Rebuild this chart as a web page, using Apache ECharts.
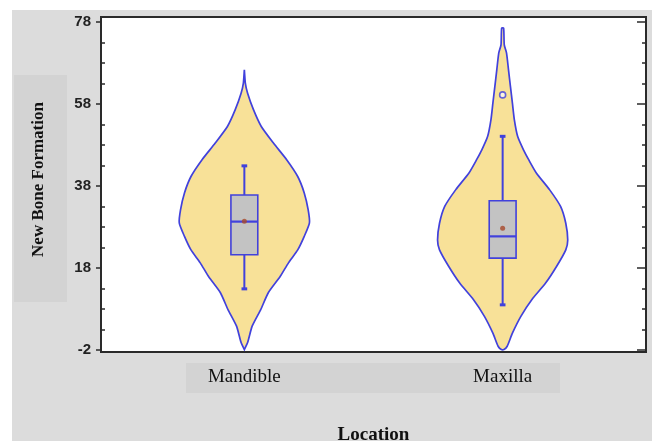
<!DOCTYPE html>
<html>
<head>
<meta charset="utf-8">
<script src="https://cdn.jsdelivr.net/npm/echarts@6/dist/echarts.min.js"></script>
<style>
  html, body { margin: 0; padding: 0; background: #fff; }
  #wrap { position: relative; width: 655px; height: 441px; overflow: hidden; }
  .panel { position: absolute; left: 12px; top: 10px; width: 640px; height: 431px; background: #dcdcdc; }
  .ybox { position: absolute; left: 14px; top: 75px; width: 53px; height: 227px; background: #d3d3d3; }
  .xbox { position: absolute; left: 186px; top: 363px; width: 374px; height: 30px; background: #d3d3d3; }
  #chart { position: absolute; left: 0; top: 0; width: 655px; height: 441px; }
</style>
</head>
<body>
<div id="wrap">
  <div class="panel"></div>
  <div class="ybox"></div>
  <div class="xbox"></div>
  <div id="chart"></div>
</div>
<script>
// Groups along the horizontal axis
const categories = ['Mandible', 'Maxilla'];

// Vertical axis ticks
const yMajorTicks = [-2, 18, 38, 58, 78];
const yMinorTicks = [3, 8, 13, 23, 28, 33, 43, 48, 53, 63, 68, 73];

// Density profiles (relative density at each level of new bone formation)
const mandibleLevels  = [-1.9, -0.2, 3.8, 7.8, 12.0, 15.9, 19.3, 22.4, 25.7, 29.0, 32.2, 36.3, 40.3, 44.4, 48.4, 52.5, 56.6, 60.6, 63.1, 66.3];
const mandibleDensity = [0, 0.05, 0.12, 0.25, 0.37, 0.55, 0.68, 0.82, 0.92, 1.0, 0.98, 0.92, 0.82, 0.65, 0.45, 0.26, 0.14, 0.05, 0.015, 0];

const maxillaLevels  = [-1.9, -1.1, 2.1, 6.2, 10.3, 14.3, 18.4, 22.4, 24.8, 28.9, 33.0, 37.1, 41.1, 44.4, 46.8, 50.1, 54.1, 58.2, 62.2, 66.3, 70.4, 72.4, 76.5];
const maxillaDensity = [0.02, 0.07, 0.15, 0.28, 0.45, 0.66, 0.83, 0.97, 1.0, 0.97, 0.89, 0.72, 0.52, 0.40, 0.32, 0.23, 0.18, 0.15, 0.12, 0.09, 0.06, 0.025, 0.015];

// Box summaries: [lower whisker, Q1, median, Q3, upper whisker]
const mandibleBox = [12.9, 21.2, 29.3, 35.8, 42.9];
const maxillaBox  = [9.0, 20.4, 25.7, 34.4, 50.1];

// Means and outliers
const meanValues = [29.4, 27.7];
const maxillaOutliers = [60.2];

// ---- build series data from the arrays above ----
const profiles = [
  { levels: mandibleLevels, density: mandibleDensity },
  { levels: maxillaLevels, density: maxillaDensity }
];
const boxes = [mandibleBox, maxillaBox];

const violinData = categories.map((c, i) => [i + 1]);
const boxData = boxes.map((b, i) => [i + 1].concat(b));
const meanData = meanValues.map((v, i) => [i + 1, v]);
const outlierData = maxillaOutliers.map(v => [2, v]);

const VIOLIN_HALF = 0.252;   // x-axis units at peak density
const BOX_HALF = 0.052;
const CAP_HALF = 0.011;

const blue = '#4141dc';

const chart = echarts.init(document.getElementById('chart'), null, { renderer: 'canvas' });

function yAxisBase(extra) {
  return Object.assign({
    type: 'value',
    min: -2.5,
    max: 79.2,
    splitLine: { show: false },
    axisLine: { show: false },
    axisLabel: { show: false },
    axisTick: { show: false }
  }, extra);
}

const option = {
  animation: false,
  backgroundColor: 'transparent',
  grid: {
    left: 101, right: 9, top: 17, bottom: 89,
    outerBoundsMode: 'none',
    containLabel: false,
    show: true,
    backgroundColor: '#ffffff',
    borderColor: '#2a2a2a',
    borderWidth: 2
  },
  xAxis: {
    type: 'value',
    min: 0.445,
    max: 2.555,
    splitLine: { show: false },
    axisLine: { show: true, onZero: false, lineStyle: { color: '#2a2a2a', width: 2 } },
    axisTick: { show: false },
    axisLabel: {
      customValues: [1, 2],
      formatter: v => categories[Math.round(v) - 1],
      fontFamily: 'Liberation Serif',
      fontSize: 19,
      color: '#111',
      margin: 16
    },
    name: 'Location',
    nameLocation: 'middle',
    nameGap: 74,
    nameTextStyle: {
      fontFamily: 'Liberation Serif',
      fontWeight: 'bold',
      fontSize: 19,
      color: '#111'
    }
  },
  yAxis: [
    yAxisBase({
      position: 'left',
      axisLine: { show: true, onZero: false, lineStyle: { color: '#2a2a2a', width: 2 } },
      axisTick: {
        show: true, customValues: yMajorTicks, length: 5, inside: false,
        lineStyle: { color: '#2a2a2a', width: 1.5 }
      },
      axisLabel: {
        show: true, customValues: yMajorTicks, margin: 10,
        fontFamily: 'Liberation Sans', fontWeight: 'bold', fontSize: 15, color: '#222'
      },
      name: 'New Bone Formation',
      nameLocation: 'middle',
      nameRotate: 90,
      nameGap: 54,
      nameTextStyle: {
        fontFamily: 'Liberation Serif',
        fontWeight: 'bold',
        fontSize: 17,
        color: '#111',
        padding: [0, 0, 0, 10]
      }
    }),
    yAxisBase({
      position: 'left',
      axisTick: {
        show: true, customValues: yMinorTicks, length: 4, inside: true,
        lineStyle: { color: '#2a2a2a', width: 1.5 }
      }
    }),
    yAxisBase({
      position: 'right',
      axisLine: { show: true, onZero: false, lineStyle: { color: '#2a2a2a', width: 2 } },
      axisTick: {
        show: true, customValues: yMajorTicks, length: 9, inside: true,
        lineStyle: { color: '#2a2a2a', width: 1.5 }
      }
    }),
    yAxisBase({
      position: 'right',
      axisTick: {
        show: true, customValues: yMinorTicks, length: 4, inside: true,
        lineStyle: { color: '#2a2a2a', width: 1.5 }
      }
    })
  ],
  series: [
    {
      // violin outlines
      type: 'custom',
      yAxisIndex: 0,
      data: violinData,
      silent: true,
      renderItem: function (params, api) {
        const pos = api.value(0);
        const p = profiles[params.dataIndex];
        const pts = [];
        for (let k = 0; k < p.levels.length; k++) {
          pts.push(api.coord([pos + p.density[k] * VIOLIN_HALF, p.levels[k]]));
        }
        for (let k = p.levels.length - 1; k >= 0; k--) {
          pts.push(api.coord([pos - p.density[k] * VIOLIN_HALF, p.levels[k]]));
        }
        return {
          type: 'polygon',
          shape: { points: pts, smooth: 0.2 },
          style: { fill: '#f8e198', stroke: blue, lineWidth: 1.7 }
        };
      },
      z: 2
    },
    {
      // box-and-whisker
      type: 'custom',
      yAxisIndex: 0,
      data: boxData,
      silent: true,
      renderItem: function (params, api) {
        const pos = api.value(0);
        const lo = api.value(1), q1 = api.value(2), med = api.value(3), q3 = api.value(4), hi = api.value(5);
        const c = (x, y) => api.coord([x, y]);
        const lineStyle = { stroke: blue, lineWidth: 2 };
        const tl = c(pos - BOX_HALF, q3), br = c(pos + BOX_HALF, q1);
        const children = [
          { type: 'line', shape: { x1: c(pos, lo)[0], y1: c(pos, lo)[1], x2: c(pos, q1)[0], y2: c(pos, q1)[1] }, style: lineStyle },
          { type: 'line', shape: { x1: c(pos, q3)[0], y1: c(pos, q3)[1], x2: c(pos, hi)[0], y2: c(pos, hi)[1] }, style: lineStyle },
          { type: 'line', shape: { x1: c(pos - CAP_HALF, lo)[0], y1: c(pos, lo)[1], x2: c(pos + CAP_HALF, lo)[0], y2: c(pos, lo)[1] }, style: { stroke: blue, lineWidth: 3 } },
          { type: 'line', shape: { x1: c(pos - CAP_HALF, hi)[0], y1: c(pos, hi)[1], x2: c(pos + CAP_HALF, hi)[0], y2: c(pos, hi)[1] }, style: { stroke: blue, lineWidth: 3 } },
          { type: 'rect', shape: { x: tl[0], y: tl[1], width: br[0] - tl[0], height: br[1] - tl[1] }, style: { fill: '#c3c3c3', stroke: blue, lineWidth: 1.6 } },
          { type: 'line', shape: { x1: tl[0], y1: c(pos, med)[1], x2: br[0], y2: c(pos, med)[1] }, style: { stroke: blue, lineWidth: 2.2 } }
        ];
        return { type: 'group', children: children };
      },
      z: 3
    },
    {
      // means
      type: 'scatter',
      yAxisIndex: 0,
      data: meanData,
      symbol: 'circle',
      symbolSize: 5,
      itemStyle: { color: '#a8492a' },
      silent: true,
      z: 4
    },
    {
      // outliers
      type: 'scatter',
      yAxisIndex: 0,
      data: outlierData,
      symbol: 'circle',
      symbolSize: 6,
      itemStyle: { color: '#fffdf0', borderColor: blue, borderWidth: 1.6 },
      silent: true,
      z: 4
    }
  ]
};

chart.setOption(option);
</script>
</body>
</html>
